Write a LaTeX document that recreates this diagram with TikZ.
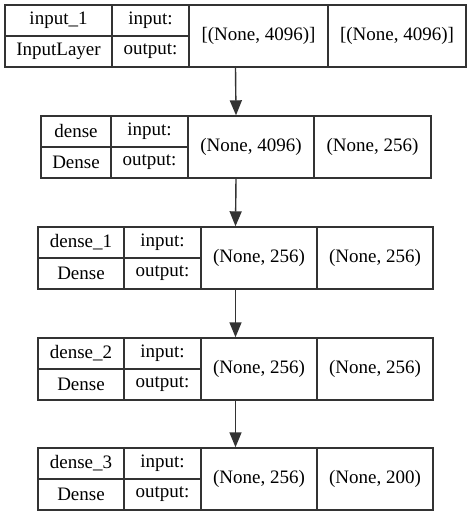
\documentclass[tikz,border=0pt]{standalone}
\usepackage{fontspec}
\setmainfont{Liberation Serif}
\newfontfamily\layerfont{Liberation Serif}
\usetikzlibrary{arrows.meta}
\begin{document}
\begin{tikzpicture}[x=1pt, y=-1pt, line width=1.4pt, color=black!80,
  cell/.style={rectangle,draw,text=black,inner sep=0pt,minimum height=31pt},
  tall/.style={cell,minimum height=62pt},
  layer/.style={rectangle,draw,inner sep=0pt,minimum height=62pt},
  flow/.style={-{Triangle[width=12pt,length=15pt]}}]
\useasboundingbox (0,0) rectangle (472,516);
\begin{scope}[every node/.style={font=\layerfont\fontsize{19}{22}\selectfont}]
% input_1
\node[layer, minimum width=461pt] (input1) at (235.5,36) {};
\node[cell, minimum width=107pt] (input1name) at (58.5,20.5) {input\_1};
\node[cell, minimum width=107pt] (input1type) at (58.5,51.5) {InputLayer};
\node[cell, minimum width=77pt] (input1in) at (150.5,20.5) {input:};
\node[cell, minimum width=77pt] (input1out) at (150.5,51.5) {output:};
\node[tall, minimum width=139pt] (input1ishape) at (258.5,36) {[(None, 4096)]};
\node[tall, minimum width=138pt] (input1oshape) at (397,36) {[(None, 4096)]};

% dense
\node[layer, minimum width=390pt] (dense) at (236,147) {};
\node[cell, minimum width=70pt] (densename) at (76,131.5) {dense};
\node[cell, minimum width=70pt] (densetype) at (76,162.5) {Dense};
\node[cell, minimum width=77pt] (densein) at (149.5,131.5) {input:};
\node[cell, minimum width=77pt] (denseout) at (149.5,162.5) {output:};
\node[tall, minimum width=126pt] (denseishape) at (251,147) {(None, 4096)};
\node[tall, minimum width=117pt] (denseoshape) at (372.5,147) {(None, 256)};

% dense_1
\node[layer, minimum width=395pt] (dense1) at (235.5,258) {};
\node[cell, minimum width=86pt] (dense1name) at (81,242.5) {dense\_1};
\node[cell, minimum width=86pt] (dense1type) at (81,273.5) {Dense};
\node[cell, minimum width=77pt] (dense1in) at (162.5,242.5) {input:};
\node[cell, minimum width=77pt] (dense1out) at (162.5,273.5) {output:};
\node[tall, minimum width=116pt] (dense1ishape) at (259,258) {(None, 256)};
\node[tall, minimum width=116pt] (dense1oshape) at (375,258) {(None, 256)};

% dense_2
\node[layer, minimum width=395pt] (dense2) at (235.5,369) {};
\node[cell, minimum width=86pt] (dense2name) at (81,353.5) {dense\_2};
\node[cell, minimum width=86pt] (dense2type) at (81,384.5) {Dense};
\node[cell, minimum width=77pt] (dense2in) at (162.5,353.5) {input:};
\node[cell, minimum width=77pt] (dense2out) at (162.5,384.5) {output:};
\node[tall, minimum width=116pt] (dense2ishape) at (259,369) {(None, 256)};
\node[tall, minimum width=116pt] (dense2oshape) at (375,369) {(None, 256)};

% dense_3
\node[layer, minimum width=395pt] (dense3) at (235.5,479) {};
\node[cell, minimum width=86pt] (dense3name) at (81,463.5) {dense\_3};
\node[cell, minimum width=86pt] (dense3type) at (81,494.5) {Dense};
\node[cell, minimum width=77pt] (dense3in) at (162.5,463.5) {input:};
\node[cell, minimum width=77pt] (dense3out) at (162.5,494.5) {output:};
\node[tall, minimum width=116pt] (dense3ishape) at (259,479) {(None, 256)};
\node[tall, minimum width=116pt] (dense3oshape) at (375,479) {(None, 200)};
\end{scope}
\begin{scope}
\draw[flow] (input1.south) -- (dense.north);
\draw[flow] (dense.south) -- (dense1.north);
\draw[flow] (dense1.south) -- (dense2.north);
\draw[flow] (dense2.south) -- (dense3.north);
\end{scope}
\end{tikzpicture}
\end{document}
